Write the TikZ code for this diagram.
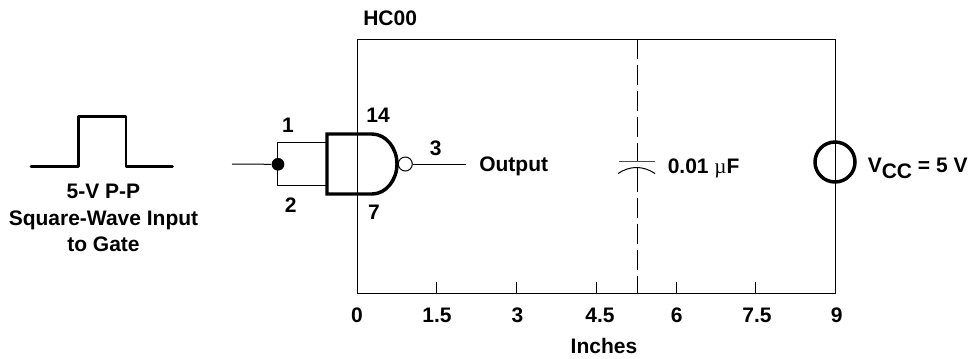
\documentclass[tikz,border=0pt]{standalone}
\usepackage{fontspec}
\setmainfont{Liberation Sans}
\newfontfamily\mufont{Liberation Serif}
\tikzset{
  x=0.75pt,y=-0.75pt,
  lbl/.style={font=\fontsize{15.75}{19.7}\selectfont\bfseries,inner sep=0pt,align=center},
  thin wire/.style={line width=0.75pt,black},
  thick wire/.style={line width=2.6pt,black,line join=miter},
  pulse wire/.style={line width=2.2pt,black,line join=round,line cap=round},
}
\begin{document}
\begin{tikzpicture}
\useasboundingbox (0,0) rectangle (970,358);
% outline
\coordinate (tl) at (357,39); \coordinate (tr) at (835,39);
\coordinate (bl) at (357,293); \coordinate (br) at (835,293);
\draw[thin wire] (tl) -- (tr) -- (br) -- (bl) -- cycle;
\foreach \x in {436.5,516,596,676,755.5} \draw[thin wire] (\x,293) -- (\x,281.5);
\node[lbl,anchor=base west] (hc) at (363,25) {HC00};
% pulse
\coordinate (p0) at (31,166.5); \coordinate (p1) at (78.5,166.5); \coordinate (p2) at (78.5,116.5);
\coordinate (p3) at (126,116.5); \coordinate (p4) at (126,166.5); \coordinate (p5) at (172.5,166.5);
\draw[pulse wire] (p0) -- (p1) -- (p2) -- (p3) -- (p4) -- (p5);
\node[lbl] (pulse) at (103.5,218) {5-V P-P\\Square-Wave Input\\to Gate};
% gate
\coordinate (gtl) at (327,134); \coordinate (gbl) at (327,194);
\coordinate (gtr) at (372,134); \coordinate (gbr) at (372,194);
\coordinate (gtip) at (397,164);
\draw[thick wire] (gtr) -- (gtl) -- (gbl) -- (gbr)
  .. controls (386,194) and (397,180) .. (gtip)
  .. controls (397,148) and (386,134) .. (gtr);
\node[circle,draw,line width=0.75pt,minimum size=10.5pt,inner sep=0pt] (bub) at (405.3,164) {};
\coordinate (in) at (232,164);
\node[circle,fill=black,minimum size=9.5pt,inner sep=0pt] (dot) at (278,164.3) {};
\coordinate (i1) at (277,142); \coordinate (i2) at (277,185);
\coordinate (g1) at (327,142); \coordinate (g2) at (327,185);
\coordinate (out) at (465.7,164);
\draw[thin wire] (in) -- (dot.west);
\draw[thin wire] (g1) -- (i1) -- (i2) -- (g2);
\draw[thin wire] (bub) -- (out);
\node[lbl] (n1) at (288,125.7) {1};
\node[lbl] (n2) at (290.7,205) {2};
\node[lbl] (n14) at (378,115.7) {14};
\node[lbl] (n7) at (374,212.7) {7};
\node[lbl] (n3) at (435.7,148.5) {3};
\node[lbl,anchor=base west] (outl) at (479,171.7) {Output};
% capacitor
\coordinate (dt) at (637,39); \coordinate (db) at (637,293);
\coordinate (c1) at (637,161.5); \coordinate (c2) at (637,167.5);
\coordinate (pl) at (619,161.5); \coordinate (pr) at (655,161.5);
\coordinate (al) at (618,173.5); \coordinate (ar) at (655,173.5);
\draw[thin wire,dash pattern=on 15pt off 4.5pt] (dt) -- (c1);
\draw[thin wire,dash pattern=on 18pt off 4.5pt on 15pt off 4.5pt on 15pt off 4.5pt on 15pt off 4.5pt on 20pt off 0pt] (c2) -- (db);
\draw[line width=1pt,black!70] (pl) -- (pr);
\draw[line width=0.75pt] (al) .. controls (630,165.5) and (643,165.5) .. (ar);
\node[lbl,anchor=base west] (cap) at (667.5,173.3) {0.01 {\mufont\mdseries µ}F};
% source
\node[circle,draw,line width=2.6pt,minimum size=30pt,inner sep=0pt] (vcc) at (835,162) {};
\node[lbl,anchor=base west] (vl) at (867.5,172.7) {V\raisebox{-4pt}{CC} = 5 V};
% scale
\foreach \x/\t/\n in {357/0/s0,437/1.5/s1,517.5/3/s2,600/4.5/s3,676.7/6/s4,757/7.5/s5,836.7/9/s6}
  \node[lbl] (\n) at (\x,315) {\t};
\node[lbl] (inches) at (604,346) {Inches};
\end{tikzpicture}
\end{document}
